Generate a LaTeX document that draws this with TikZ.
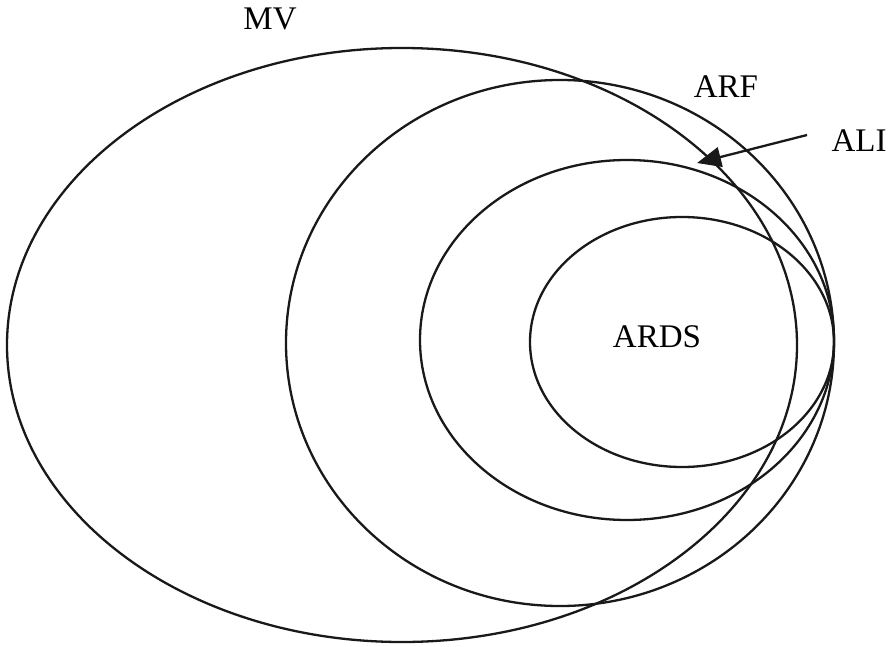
\documentclass[tikz,border=0pt]{standalone}
\usepackage{fontspec}
\setmainfont{Liberation Serif}
\usetikzlibrary{arrows.meta}
\begin{document}
\begin{tikzpicture}[x=1pt,y=-1pt,
  ring/.style={draw=black!90,line width=2.3pt},
  lbl/.style={font=\fontsize{33}{38}\selectfont,inner sep=0pt},
  ptr/.style={draw=black!90,line width=2.3pt,-{Triangle[length=24pt,width=20pt]}}]
\useasboundingbox (0,0) rectangle (894,647);
\draw[ring] (402,345) ellipse [x radius=395, y radius=297];
\draw[ring] (560,343) ellipse [x radius=274, y radius=263];
\draw[ring] (627,340) ellipse [x radius=207, y radius=180];
\draw[ring] (682,342) ellipse [x radius=152, y radius=125];
\node[lbl] (mv) at (270,19) {MV};
\node[lbl] (arf) at (726,87) {ARF};
\node[lbl] (ali) at (859,141) {ALI};
\node[lbl] (ards) at (657,337) {ARDS};
\coordinate (alistart) at (807,135);
\coordinate (alitip) at (697,163);
\draw[ptr] (alistart) -- (alitip);
\end{tikzpicture}
\end{document}
